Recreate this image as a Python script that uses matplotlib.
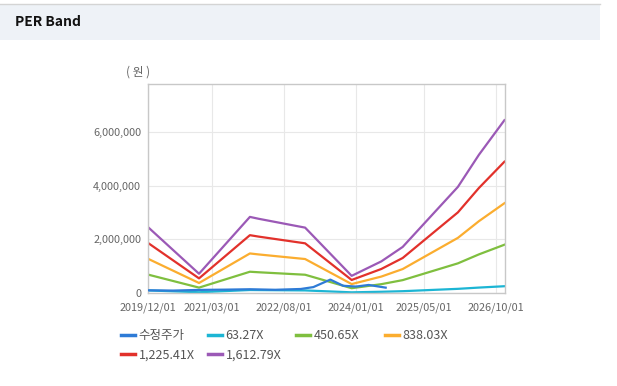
import matplotlib
matplotlib.use("Agg")
import matplotlib.pyplot as plt
import matplotlib.dates as mdates
from matplotlib.patches import Rectangle
from matplotlib.lines import Line2D
import pandas as pd

plt.rcParams['font.family'] = ['Noto Sans CJK KR', 'DejaVu Sans']

# band base (EPS), per date
band_dates = ['2019-12-01', '2020-12-01', '2021-12-01', '2022-02-01', '2022-11-01',
              '2023-01-01', '2023-12-01', '2024-07-01', '2024-12-01', '2025-06-01',
              '2026-01-01', '2026-06-01', '2026-12-01']
eps = [1525, 446, 1761, 1718, 1550, 1513, 397, 732, 1066, 1705, 2455, 3199, 3999]

multiples = [63.27, 450.65, 838.03, 1225.41, 1612.79]
band_labels = ['63.27X', '450.65X', '838.03X', '1,225.41X', '1,612.79X']
band_colors = ['#1cb5d4', '#7fbf3f', '#fbad2f', '#e2312b', '#9b59b6']

price_dates = ['2019-12-01', '2020-06-01', '2020-12-01', '2021-06-01', '2021-12-01',
               '2022-06-01', '2022-12-01', '2023-03-01', '2023-07-01', '2023-10-01',
               '2024-01-01', '2024-04-01', '2024-08-01']
price = [100000, 90000, 115000, 125000, 140000, 120000, 150000, 220000,
         500000, 270000, 240000, 300000, 200000]

xticks = ['2019-12-01', '2021-03-01', '2022-08-01', '2024-01-01', '2025-05-01', '2026-10-01']
yticks = [0, 2000000, 4000000, 6000000]

bd = pd.to_datetime(band_dates)
pdt = pd.to_datetime(price_dates)

W, H = 617, 386
fig = plt.figure(figsize=(W / 100, H / 100), dpi=100)
fig.patch.set_facecolor('white')

# header bar
fig.patches.append(Rectangle((0, 1 - 40 / H), 600 / W, 36 / H, transform=fig.transFigure,
                             facecolor='#eef2f7', edgecolor='none'))
fig.lines.append(Line2D([0, 600 / W], [1 - 4 / H, 1 - 4 / H], transform=fig.transFigure,
                        color='#d4d4d4', lw=1))
fig.text(15 / W, 1 - 22 / H, 'PER Band', fontsize=10, fontweight='bold', va='center', color='#111111')

ax = fig.add_axes([148 / W, 1 - 293 / H, 357 / W, 209 / H])
ax.plot(pdt, price, color='#2e7bd6', lw=1.6, label='수정주가', zorder=3)
for m, lab, c in zip(multiples, band_labels, band_colors):
    ax.plot(bd, [e * m for e in eps], color=c, lw=1.6, label=lab, zorder=2)

ax.set_xlim(pd.Timestamp('2019-12-01'), pd.Timestamp('2026-12-05'))
ax.set_ylim(0, 7800000)
ax.set_xticks(pd.to_datetime(xticks))
ax.xaxis.set_major_formatter(mdates.DateFormatter('%Y/%m/%d'))
ax.set_yticks(yticks)
ax.set_yticklabels(['{:,}'.format(v) for v in yticks])
ax.tick_params(length=0, labelsize=7.8, colors='#666666')
ax.tick_params(axis='x', pad=7)
ax.tick_params(axis='y', pad=5)
ax.grid(True, color='#e8e8e8', lw=0.8)
ax.set_axisbelow(True)
for s in ax.spines.values():
    s.set_color('#c8c8c8')
    s.set_linewidth(1)
ax.set_facecolor('white')

fig.text(126 / W, 1 - 72 / H, '( 원 )', fontsize=8.5, color='#666666', ha='left', va='center')

# legend: one column at a time so the columns sit on a fixed grid
handles, labels = ax.get_legend_handles_labels()
columns = [[0, 4], [1, 5], [2], [3]]
col_x = [121, 208, 296, 385]
for idx, x in zip(columns, col_x):
    leg = fig.legend([handles[i] for i in idx], [labels[i] for i in idx],
                     loc='upper left', bbox_to_anchor=(x / W, 1 - 329 / H),
                     frameon=False, fontsize=9, handlelength=1.15, handletextpad=0.25,
                     labelspacing=0.5, borderaxespad=0, borderpad=0,
                     labelcolor='#555555')
    for h in leg.get_lines():
        h.set_linewidth(2.5)

fig.savefig('out.png', dpi=100)
